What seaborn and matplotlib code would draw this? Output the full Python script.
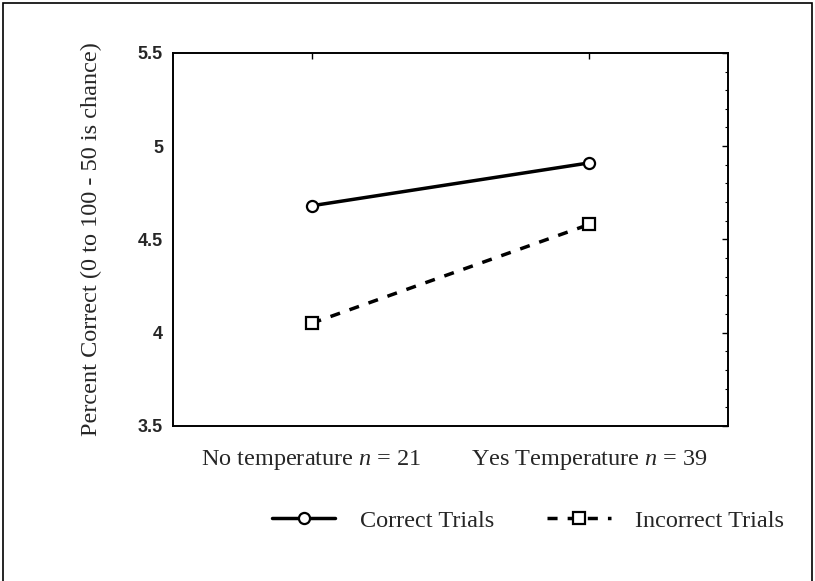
import pandas as pd
import numpy as np
import matplotlib.pyplot as plt
import seaborn as sns
from matplotlib.patches import Rectangle
from matplotlib.ticker import MultipleLocator, FormatStrFormatter

# values
groups = ['No temperature $n$ = 21', 'Yes Temperature $n$ = 39']
correct = [4.68, 4.91]
incorrect = [4.05, 4.58]
series = ['Correct Trials', 'Incorrect Trials']

df = pd.DataFrame({
    'Group': groups * 2,
    'Score': correct + incorrect,
    'Trial': [series[0]] * 2 + [series[1]] * 2,
})

sns.set_style('white')
plt.rcParams['font.family'] = ['Liberation Serif', 'DejaVu Serif']
plt.rcParams['mathtext.fontset'] = 'custom'
plt.rcParams['mathtext.it'] = 'Liberation Serif:italic'
plt.rcParams['mathtext.rm'] = 'Liberation Serif'

fig = plt.figure(figsize=(8.15, 5.81), dpi=100)
ax = fig.add_axes([0.212, 0.267, 0.681, 0.642])

sns.lineplot(data=df, x='Group', y='Score', hue='Trial', style='Trial',
             palette=['black', 'black'], markers={series[0]: 'o', series[1]: 's'},
             dashes={series[0]: '', series[1]: (2.9, 2.9)}, linewidth=2.5,
             markersize=8, markeredgewidth=1.6, ax=ax)

for ln in ax.lines:
    ln.set_markerfacecolor('white')
    ln.set_markeredgecolor('black')

ax.set_xlim(-0.5, 1.5)
ax.set_ylim(3.5, 5.5)
ax.yaxis.set_major_locator(MultipleLocator(0.5))
ax.yaxis.set_minor_locator(MultipleLocator(0.1))
ax.yaxis.set_major_formatter(FormatStrFormatter('%g'))
ax.tick_params(axis='both', which='both', direction='in', top=True, right=True,
               color='black')
ax.tick_params(axis='both', which='major', length=4, width=1)
ax.tick_params(axis='y', which='minor', length=2, width=0.8)
ax.tick_params(axis='x', pad=16, labelsize=17.5)
ax.tick_params(axis='y', pad=7)
for t in ax.get_yticklabels():
    t.set_fontfamily('Liberation Sans')
    t.set_fontweight('bold')
    t.set_fontsize(13)
for s in ax.spines.values():
    s.set_color('black')
    s.set_linewidth(1.4)

ax.set_xlabel('')
ax.set_ylabel('Percent Correct (0 to 100 - 50 is chance)', fontsize=17.5, labelpad=26)

handles, labels = ax.get_legend_handles_labels()
ax.legend(handles, labels, loc='center', bbox_to_anchor=(0.64, -0.255), ncol=2,
          frameon=False, fontsize=17.5, handlelength=2.6, columnspacing=2.2,
          handletextpad=1.0)

# page frame round the whole figure
fig.patches.append(Rectangle((0.004, -0.02), 0.992, 1.015, transform=fig.transFigure,
                             fill=False, edgecolor='black', linewidth=1.2))

plt.savefig('out.png', dpi=100)
